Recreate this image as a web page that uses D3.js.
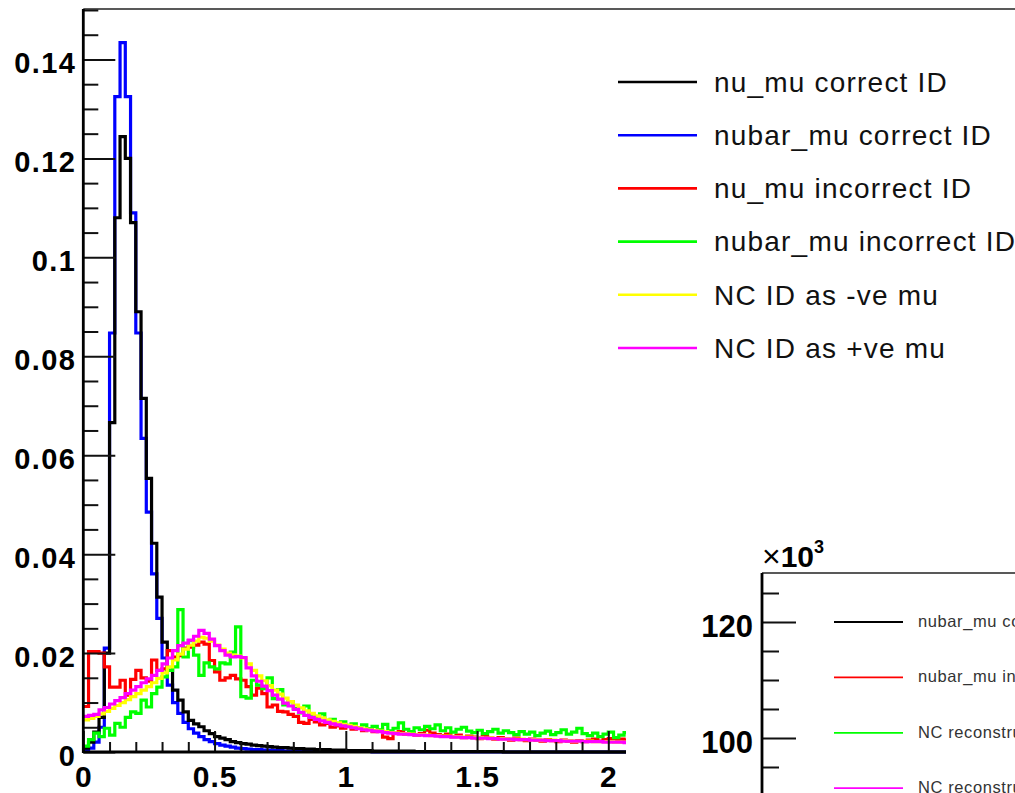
<!DOCTYPE html>
<html>
<head>
<meta charset="utf-8">
<script src="https://cdn.jsdelivr.net/npm/d3@7"></script>
<style>
  html, body { margin: 0; padding: 0; background: #fff; }
  svg { display: block; font-family: "Liberation Sans", Arial, Helvetica, sans-serif; }
</style>
</head>
<body>
<svg id="chart" width="1015" height="793"></svg>
<script>
// Histogram binning: 0.02-wide bins starting at 0
const binWidth = 0.02;

// nu_mu correct ID
const numuCorrect = [
  0.0008, 0.0020, 0.0040, 0.0070, 0.0200, 0.0666, 0.1080, 0.1244, 0.1200, 0.1070,
  0.0890, 0.0715, 0.0553, 0.0422, 0.0313, 0.0222, 0.0165, 0.0125, 0.0105, 0.0081,
  0.0064, 0.0057, 0.0051, 0.0043, 0.0037, 0.0031, 0.0028, 0.0025, 0.0021, 0.0019,
  0.0017, 0.0016, 0.0014, 0.0013, 0.0012, 0.0011, 0.0010, 0.0009, 0.0009, 0.0008,
  0.0007, 0.0007, 0.0006, 0.0006, 0.0005, 0.0005, 0.0005, 0.0004, 0.0004, 0.0004,
  0.0003, 0.0003, 0.0003, 0.0003, 0.0003, 0.0002, 0.0002, 0.0002, 0.0002, 0.0002,
  0.0002, 0.0002, 0.0002, 0.0001, 0.0001, 0.0001, 0.0001, 0.0001, 0.0001, 0.0001,
  0.0001, 0.0001, 0.0001, 0.0001, 0.0001, 0.0001, 0.0001, 0.0001, 0.0001, 0.0001,
  0, 0, 0, 0, 0, 0, 0, 0, 0, 0,
  0, 0, 0, 0, 0, 0, 0, 0, 0, 0,
  0, 0, 0, 0
];

// nubar_mu correct ID
const numubarCorrect = [
  0.0003, 0.0008, 0.0020, 0.0050, 0.0210, 0.0847, 0.1325, 0.1434, 0.1325, 0.1090,
  0.0847, 0.0634, 0.0485, 0.0360, 0.0270, 0.0190, 0.0135, 0.0100, 0.0078, 0.0060,
  0.0047, 0.0038, 0.0031, 0.0025, 0.0021, 0.0017, 0.0014, 0.0012, 0.0010, 0.0008,
  0.0007, 0.0006, 0.0005, 0.0005, 0.0004, 0.0004, 0.0003, 0.0003, 0.0002, 0.0002,
  0.0002, 0.0002, 0.0001, 0.0001, 0.0001, 0.0001, 0.0001, 0.0001, 0.0001, 0.0001,
  0.0001, 0.0001, 0.0001, 0.0001, 0.0001, 0, 0, 0, 0, 0,
  0, 0, 0, 0, 0, 0, 0, 0, 0, 0,
  0, 0, 0, 0, 0, 0, 0, 0, 0, 0,
  0, 0, 0, 0, 0, 0, 0, 0, 0, 0,
  0, 0, 0, 0, 0, 0, 0, 0, 0, 0,
  0, 0, 0, 0
];

// nu_mu incorrect ID
const numuIncorrect = [
  0.0092, 0.0203, 0.0203, 0.0200, 0.0172, 0.0131, 0.0131, 0.0145, 0.0115, 0.0147,
  0.0165, 0.0150, 0.0143, 0.0186, 0.0165, 0.0168, 0.0205, 0.0192, 0.0195, 0.0210,
  0.0212, 0.0216, 0.0222, 0.0218, 0.0185, 0.0162, 0.0145, 0.0150, 0.0155, 0.0148,
  0.0145, 0.0132, 0.0115, 0.0129, 0.0118, 0.0091, 0.0095, 0.0082, 0.0081, 0.0076,
  0.0072, 0.0060, 0.0058, 0.0066, 0.0061, 0.0055, 0.0058, 0.0050, 0.0053, 0.0048,
  0.0052, 0.0046, 0.0049, 0.0043, 0.0046, 0.0041, 0.0044, 0.0030, 0.0027, 0.0038,
  0.0041, 0.0036, 0.0039, 0.0034, 0.0037, 0.0044, 0.0038, 0.0035, 0.0033, 0.0036,
  0.0031, 0.0034, 0.0029, 0.0032, 0.0030, 0.0027, 0.0031, 0.0028, 0.0026, 0.0029,
  0.0027, 0.0024, 0.0028, 0.0025, 0.0023, 0.0026, 0.0024, 0.0022, 0.0025, 0.0023,
  0.0021, 0.0024, 0.0022, 0.0020, 0.0023, 0.0021, 0.0024, 0.0026, 0.0022, 0.0025,
  0.0027, 0.0023, 0.0026, 0.0024
];

// nubar_mu incorrect ID
const numubarIncorrect = [
  0.0012, 0.0025, 0.0038, 0.0031, 0.0048, 0.0034, 0.0058, 0.0050, 0.0070, 0.0081,
  0.0078, 0.0105, 0.0091, 0.0118, 0.0131, 0.0152, 0.0165, 0.0172, 0.0288, 0.0192,
  0.0225, 0.0196, 0.0155, 0.0180, 0.0172, 0.0168, 0.0180, 0.0178, 0.0202, 0.0253,
  0.0112, 0.0109, 0.0145, 0.0135, 0.0128, 0.0150, 0.0108, 0.0126, 0.0095, 0.0102,
  0.0088, 0.0079, 0.0093, 0.0071, 0.0068, 0.0077, 0.0062, 0.0066, 0.0058, 0.0061,
  0.0054, 0.0057, 0.0049, 0.0055, 0.0047, 0.0052, 0.0045, 0.0056, 0.0043, 0.0048,
  0.0059, 0.0046, 0.0041, 0.0049, 0.0045, 0.0052, 0.0047, 0.0055, 0.0043, 0.0049,
  0.0040, 0.0046, 0.0050, 0.0042, 0.0039, 0.0044, 0.0037, 0.0041, 0.0046, 0.0038,
  0.0043, 0.0039, 0.0035, 0.0041, 0.0036, 0.0040, 0.0033, 0.0038, 0.0042, 0.0035,
  0.0039, 0.0045, 0.0036, 0.0040, 0.0048, 0.0037, 0.0033, 0.0038, 0.0031, 0.0036,
  0.0040, 0.0029, 0.0034, 0.0039
];

// NC events identified as -ve mu
const ncNegative = [
  0.0065, 0.0068, 0.0072, 0.0077, 0.0082, 0.0088, 0.0094, 0.0100, 0.0106, 0.0112,
  0.0118, 0.0125, 0.0132, 0.0140, 0.0149, 0.0160, 0.0172, 0.0186, 0.0198, 0.0208,
  0.0216, 0.0224, 0.0232, 0.0230, 0.0224, 0.0216, 0.0208, 0.0200, 0.0196, 0.0194,
  0.0190, 0.0178, 0.0165, 0.0154, 0.0144, 0.0134, 0.0125, 0.0117, 0.0109, 0.0102,
  0.0095, 0.0089, 0.0083, 0.0078, 0.0073, 0.0069, 0.0065, 0.0062, 0.0059, 0.0056,
  0.0054, 0.0052, 0.0049, 0.0047, 0.0045, 0.0044, 0.0042, 0.0041, 0.0039, 0.0038,
  0.0037, 0.0037, 0.0036, 0.0035, 0.0035, 0.0034, 0.0033, 0.0033, 0.0032, 0.0032,
  0.0031, 0.0031, 0.0030, 0.0030, 0.0029, 0.0029, 0.0028, 0.0028, 0.0027, 0.0027,
  0.0027, 0.0026, 0.0026, 0.0026, 0.0025, 0.0025, 0.0025, 0.0024, 0.0024, 0.0024,
  0.0023, 0.0023, 0.0023, 0.0022, 0.0022, 0.0022, 0.0022, 0.0021, 0.0021, 0.0021,
  0.0021, 0.0020, 0.0020, 0.0020
];

// NC events identified as +ve mu
const ncPositive = [
  0.0072, 0.0074, 0.0076, 0.0085, 0.0090, 0.0097, 0.0104, 0.0110, 0.0118, 0.0125,
  0.0132, 0.0140, 0.0148, 0.0155, 0.0165, 0.0178, 0.0190, 0.0205, 0.0215, 0.0220,
  0.0226, 0.0234, 0.0246, 0.0240, 0.0228, 0.0215, 0.0205, 0.0196, 0.0192, 0.0193,
  0.0191, 0.0170, 0.0154, 0.0143, 0.0133, 0.0124, 0.0115, 0.0107, 0.0099, 0.0093,
  0.0086, 0.0080, 0.0074, 0.0070, 0.0066, 0.0063, 0.0060, 0.0057, 0.0055, 0.0053,
  0.0051, 0.0049, 0.0047, 0.0045, 0.0044, 0.0042, 0.0041, 0.0039, 0.0038, 0.0037,
  0.0036, 0.0036, 0.0035, 0.0034, 0.0034, 0.0033, 0.0033, 0.0032, 0.0031, 0.0031,
  0.0030, 0.0030, 0.0029, 0.0029, 0.0028, 0.0028, 0.0028, 0.0027, 0.0027, 0.0026,
  0.0026, 0.0026, 0.0025, 0.0025, 0.0025, 0.0024, 0.0024, 0.0024, 0.0023, 0.0023,
  0.0023, 0.0022, 0.0022, 0.0022, 0.0022, 0.0021, 0.0021, 0.0021, 0.0021, 0.0020,
  0.0020, 0.0020, 0.0020, 0.0019
];

const seriesNames = [
  "nu_mu correct ID", "nubar_mu correct ID", "nu_mu incorrect ID",
  "nubar_mu incorrect ID", "NC ID as -ve mu", "NC ID as +ve mu"
];
const seriesValues = [numuCorrect, numubarCorrect, numuIncorrect, numubarIncorrect, ncNegative, ncPositive];
const seriesColors = ["#000000", "#0000ff", "#ff0000", "#00ff00", "#ffff00", "#ff00ff"];
// draw order: blue underneath black, then the wrong-sign and NC histograms
const drawOrder = [1, 0, 2, 3, 4, 5];

const yMajorTicks = [0, 0.02, 0.04, 0.06, 0.08, 0.1, 0.12, 0.14];
const yTickLabels = ["0", "0.02", "0.04", "0.06", "0.08", "0.1", "0.12", "0.14"];
// only the part of the x axis left of the second pad is visible
const xMajorTicks = [0, 0.5, 1, 1.5, 2];
const xTickLabels = ["0", "0.5", "1", "1.5", "2"];

// second (overlaid) pad: scale in units of 10^3
const insetMajorTicks = [100, 120];
const insetTickLabels = ["100", "120"];
const insetMinorTicks = [90, 95, 105, 110, 115, 125];
const insetNames = ["nubar_mu correct ID", "nubar_mu incorrect ID", "NC reconstructed as -ve mu", "NC reconstructed as +ve mu"];
const insetColors = ["#000000", "#ff0000", "#00ff00", "#ff00ff"];

const svg = d3.select("#chart");
const font = '"Liberation Sans", Arial, Helvetica, sans-serif';

// ---- main pad ----
const frame = { left: 83.3, top: 9, bottom: 752 };
const x = d3.scaleLinear().domain([0, 3.6]).range([frame.left, frame.left + 3.6 * 262.5]);
const y = d3.scaleLinear().domain([0, 0.1502]).range([frame.bottom, frame.top]);

// frame top edge
svg.append("line")
  .attr("x1", frame.left).attr("x2", 1015)
  .attr("y1", frame.top).attr("y2", frame.top)
  .attr("stroke", "#222").attr("stroke-width", 1.3);

// histograms
const step = d3.line()
  .x(d => x(d[0])).y(d => y(d[1]))
  .curve(d3.curveStepAfter);

const gHist = svg.append("g");
drawOrder.forEach(i => {
  const vals = seriesValues[i];
  const pts = vals.map((v, k) => [k * binWidth, v]);
  pts.push([vals.length * binWidth, vals[vals.length - 1]]);
  gHist.append("path")
    .attr("d", step(pts))
    .attr("fill", "none")
    .attr("stroke", seriesColors[i])
    .attr("stroke-width", 3.2)
    .attr("stroke-linejoin", "miter");
});

// y axis: minor ticks every 0.005, major every 0.02
const yMinor = d3.range(0, 0.1501, 0.005).filter(v => !yMajorTicks.some(m => Math.abs(m - v) < 1e-9));
svg.append("g")
  .attr("transform", `translate(${frame.left},0)`)
  .call(d3.axisLeft(y).tickValues(yMinor).tickSize(-15).tickFormat(""))
  .call(g => g.select(".domain").remove())
  .selectAll("line").attr("stroke", "#111").attr("stroke-width", 2);

const yAxisG = svg.append("g")
  .attr("transform", `translate(${frame.left},0)`)
  .call(d3.axisLeft(y).tickValues(yMajorTicks).tickSize(-32).tickPadding(7)
    .tickFormat((d, i) => yTickLabels[i]))
  .call(g => g.select(".domain").remove());
yAxisG.selectAll("line").attr("stroke", "#111").attr("stroke-width", 2);
yAxisG.selectAll("text")
  .attr("dy", "0.46em")
  .attr("font-family", font).attr("font-weight", "bold").attr("font-size", 29)
  .attr("letter-spacing", "1.4px")
  .attr("fill", "#000");

// x axis: minor ticks every 0.1, major every 0.5
const xMinor = d3.range(0.1, 2.05, 0.1).filter(v => !xMajorTicks.some(m => Math.abs(m - v) < 1e-9));
svg.append("g")
  .attr("transform", `translate(0,${frame.bottom})`)
  .call(d3.axisBottom(x).tickValues(xMinor).tickSize(-10).tickFormat(""))
  .call(g => g.select(".domain").remove())
  .selectAll("line").attr("stroke", "#111").attr("stroke-width", 2);

const xAxisG = svg.append("g")
  .attr("transform", `translate(0,${frame.bottom})`)
  .call(d3.axisBottom(x).tickValues(xMajorTicks).tickSize(-21).tickPadding(12)
    .tickFormat((d, i) => xTickLabels[i]))
  .call(g => g.select(".domain").remove());
xAxisG.selectAll("line").attr("stroke", "#111").attr("stroke-width", 2);
xAxisG.selectAll("text")
  .attr("y", 35).attr("dy", 0)
  .attr("font-family", font).attr("font-weight", "bold").attr("font-size", 30)
  .attr("letter-spacing", "1px")
  .attr("fill", "#000");

// axis lines
svg.append("line")
  .attr("x1", frame.left).attr("x2", x(3.6))
  .attr("y1", frame.bottom).attr("y2", frame.bottom)
  .attr("stroke", "#000").attr("stroke-width", 2.8);
svg.append("line")
  .attr("x1", frame.left).attr("x2", frame.left)
  .attr("y1", frame.top).attr("y2", frame.bottom + 1)
  .attr("stroke", "#000").attr("stroke-width", 2.8);

// legend
const legend = svg.append("g").attr("transform", "translate(618,82)");
seriesNames.forEach((name, i) => {
  const row = legend.append("g").attr("transform", `translate(0,${i * 53.2})`);
  row.append("line").attr("x1", 0).attr("x2", 79).attr("y1", 0).attr("y2", 0)
    .attr("stroke", seriesColors[i]).attr("stroke-width", 2.6);
  row.append("text").attr("x", 96).attr("y", 9.8)
    .attr("font-family", font).attr("font-size", 28)
    .attr("letter-spacing", "1.2px")
    .attr("fill", "#111").text(name);
});

// ---- second pad overlapping the lower right ----
const inset = svg.append("g");
inset.append("rect")
  .attr("x", 626).attr("y", 536).attr("width", 400).attr("height", 270)
  .attr("fill", "#fff");

const insetLeft = 762, insetTop = 573;
const yi = d3.scaleLinear().domain([100, 120]).range([738, 622]);

inset.append("line")
  .attr("x1", insetLeft).attr("x2", 1015).attr("y1", insetTop).attr("y2", insetTop)
  .attr("stroke", "#222").attr("stroke-width", 1.3);

inset.append("g")
  .attr("transform", `translate(${insetLeft},0)`)
  .call(d3.axisLeft(yi).tickValues(insetMinorTicks).tickSize(-17).tickFormat(""))
  .call(g => g.select(".domain").remove())
  .selectAll("line").attr("stroke", "#111").attr("stroke-width", 2);

const yiAxis = inset.append("g")
  .attr("transform", `translate(${insetLeft},0)`)
  .call(d3.axisLeft(yi).tickValues(insetMajorTicks).tickSize(-34).tickPadding(9)
    .tickFormat((d, i) => insetTickLabels[i]))
  .call(g => g.select(".domain").remove());
yiAxis.selectAll("line").attr("stroke", "#111").attr("stroke-width", 2);
yiAxis.selectAll("text")
  .attr("dy", "0.47em")
  .attr("font-family", font).attr("font-weight", "bold").attr("font-size", 31)
  .attr("fill", "#000");

inset.append("line")
  .attr("x1", insetLeft).attr("x2", insetLeft).attr("y1", insetTop).attr("y2", 800)
  .attr("stroke", "#000").attr("stroke-width", 2.8);

// exponent label
const expo = inset.append("text").attr("x", insetLeft).attr("y", 567)
  .attr("font-family", font).attr("fill", "#000");
expo.append("tspan").attr("font-size", 32).text("\u00d7");
expo.append("tspan").attr("font-size", 30).attr("font-weight", "bold").text("10");
expo.append("tspan").attr("font-size", 18).attr("font-weight", "bold").attr("dy", -14).text("3");

// inset legend (runs past the right edge of the canvas)
insetNames.forEach((name, i) => {
  const yy = 622 + i * 55.4;
  inset.append("line").attr("x1", 834).attr("x2", 903).attr("y1", yy).attr("y2", yy)
    .attr("stroke", insetColors[i]).attr("stroke-width", 1.8);
  inset.append("text").attr("x", 918).attr("y", yy + 5)
    .attr("font-family", font).attr("font-size", 16.5)
    .attr("letter-spacing", "0.6px")
    .attr("fill", "#333").text(name);
});
</script>
</body>
</html>
